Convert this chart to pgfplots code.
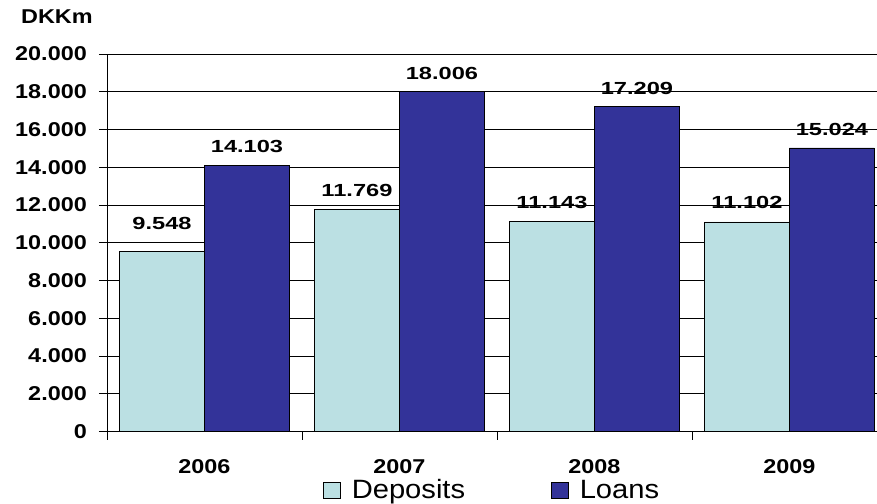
\documentclass[border=0pt]{standalone}
\usepackage{pgfplots}
\pgfplotsset{compat=1.18}
\usepackage{fontspec}
\setmainfont{Liberation Sans}
% Slightly widened Arial-like faces for the chart texts
\newfontfamily\axfont{Liberation Sans}[FakeStretch=1.17]
\newfontfamily\valfont{Liberation Sans}[FakeStretch=1.35]
\newfontfamily\legfont{Liberation Sans}[FakeStretch=1.1]

\definecolor{depcol}{RGB}{187,224,227}
\definecolor{loancol}{RGB}{51,51,153}

% year index, amount in DKKm, label lift above the bar top (bp)
\pgfplotstableread{
x y dy
0 9548 28
1 11769 19
2 11143 19
3 11102 19
}\deposits
\pgfplotstableread{
x y dy
0 14103 19
1 18006 18.5
2 17209 18
3 15024 18
}\loans

\begin{document}
\begin{tikzpicture}
\path[use as bounding box] (0,0) rectangle (877bp,504bp);
\begin{axis}[
  at={(107bp,72.5bp)}, anchor=south west,
  width=770bp, height=377.5bp, scale only axis,
  ybar=0pt, bar width=0.436,
  xmin=-0.5, xmax=3.449,
  ymin=0, ymax=20000,
  axis x line*=bottom, axis y line*=left,
  axis line style={-, black, line width=0.9bp},
  xtick={0,1,2,3}, xticklabels={2006,2007,2008,2009},
  major x tick style={draw=none},
  minor xtick={-0.5,0.5,1.5,2.5},
  minor tick length=8bp,
  ytick={0,2000,...,20000},
  scaled y ticks=false,
  major tick length=8bp,
  tick align=outside,
  tick style={black, line width=0.8bp},
  ymajorgrids, major grid style={black, line width=0.8bp},
  ticklabel style={font=\axfont\bfseries\fontsize{20bp}{24bp}\selectfont, inner sep=0pt},
  yticklabel style={anchor=east, xshift=-12bp},
  xticklabel style={anchor=north, yshift=-20bp},
  /pgf/number format/fixed,
  /pgf/number format/1000 sep={.},
  /pgf/number format/assume math mode=true,
  sqlegend/.style={legend image code/.code={\draw[##1, line width=0.6bp] (0bp,-8bp) rectangle (17bp,8bp);}},
  legend columns=2,
  legend style={at={(axis description cs:0.2805,-0.155)}, anchor=west,
    draw=none, fill=none, inner sep=0pt,
    font=\legfont\fontsize{26.5bp}{30bp}\selectfont,
    /tikz/every odd column/.append style={column sep=9bp},
    /tikz/every even column/.append style={column sep=84bp}},
  valnode/.style={nodes near coords,
    visualization depends on={\thisrow{dy}\as\labdy},
    every node near coord/.append style={anchor=center, yshift=\labdy bp, inner sep=0pt,
      font=\valfont\bfseries\fontsize{17.5bp}{20bp}\selectfont}},
]
\addplot[fill=depcol, draw=black, line width=0.6bp, sqlegend, valnode]
  table[x=x, y=y]{\deposits};
\addplot[fill=loancol, draw=black, line width=0.6bp, sqlegend, valnode]
  table[x=x, y=y]{\loans};
\legend{Deposits, Loans}
\end{axis}
\node[anchor=west, inner sep=0pt, font=\axfont\bfseries\fontsize{20bp}{24bp}\selectfont]
  at (21bp,487bp) {DKKm};
\end{tikzpicture}
\end{document}
